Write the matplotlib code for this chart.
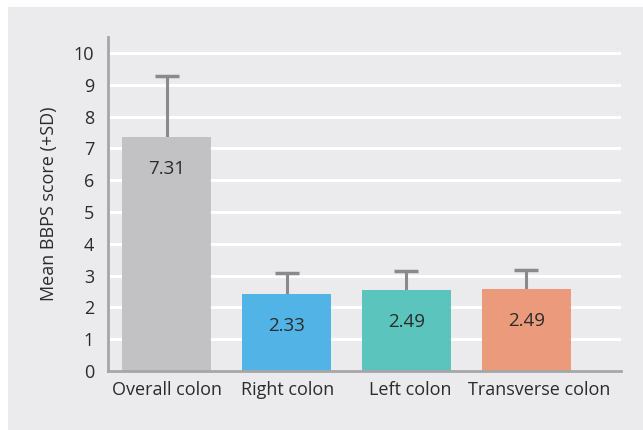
import matplotlib
matplotlib.use('agg')
from matplotlib import pyplot as plt
from matplotlib.patches import Rectangle
from matplotlib.transforms import ScaledTranslation

# values
regions = ["Overall colon", "Right colon", "Left colon", "Transverse colon"]
means = [7.36, 2.42, 2.55, 2.58]
sds = [1.92, 0.66, 0.58, 0.59]
mean_labels = ["7.31", "2.33", "2.49", "2.49"]
colors = ["#c2c2c4", "#52b4e6", "#5bc5bd", "#eb9b7b"]
yticks = list(range(0, 11))

plt.rcParams['font.family'] = ['Open Sans', 'DejaVu Sans']
plt.rcParams['font.size'] = 13

bg = "#ebebee"
axis_gray = "#a6a6a8"
text_col = "#2b2b2b"

fig = plt.figure(figsize=(6.43, 4.30), dpi=100)
fig.patch.set_facecolor("white")
fig.patches.append(Rectangle((8 / 643, 0), 1, 1 - 7 / 430, transform=fig.transFigure,
                             facecolor=bg, edgecolor="none", zorder=-10))

ax = fig.add_axes([108 / 643, 59 / 430, 513 / 643, 334 / 430])
ax.set_facecolor(bg)

x = list(range(len(regions)))
ax.bar(x, means, width=0.74, color=colors, zorder=3)
eb = ax.errorbar(x, means, yerr=[[0] * len(sds), sds], fmt="none", ecolor="#8a8a8c",
                 elinewidth=2.2, capsize=8.5, capthick=2.5, zorder=2)
# only the upper cap is drawn in the original
eb[1][0].set_visible(False)

for xi, m, lab in zip(x, means, mean_labels):
    ax.annotate(lab, (xi, m), xytext=(0, -23), textcoords="offset points",
                ha="center", va="center", color=text_col, fontsize=13.5, zorder=4)

ax.set_xlim(-0.49, 3.79)
ax.set_ylim(0, 10.5)
ax.set_yticks(yticks)
ax.set_xticks(x)
ax.set_xticklabels(regions)
ax.yaxis.grid(True, color="white", linewidth=2.2, zorder=0)
ax.set_axisbelow(True)
ax.tick_params(axis="both", length=0, colors=text_col, labelsize=13)
ax.tick_params(axis="y", pad=10)
ax.tick_params(axis="x", pad=7)

# category labels drift a little to the right in the original
for lbl, dx in zip(ax.get_xticklabels(), [0, 1, 3.5, 13]):
    lbl.set_transform(lbl.get_transform() + ScaledTranslation(dx / 100, 0, fig.dpi_scale_trans))

for side in ["top", "right"]:
    ax.spines[side].set_visible(False)
for side in ["left", "bottom"]:
    ax.spines[side].set_color(axis_gray)
    ax.spines[side].set_linewidth(2)
    ax.spines[side].set_zorder(5)

ax.set_ylabel("Mean BBPS score (+SD)", color=text_col, fontsize=13, labelpad=11)

plt.savefig("out.png", dpi=100, facecolor=fig.get_facecolor())
plt.close()
